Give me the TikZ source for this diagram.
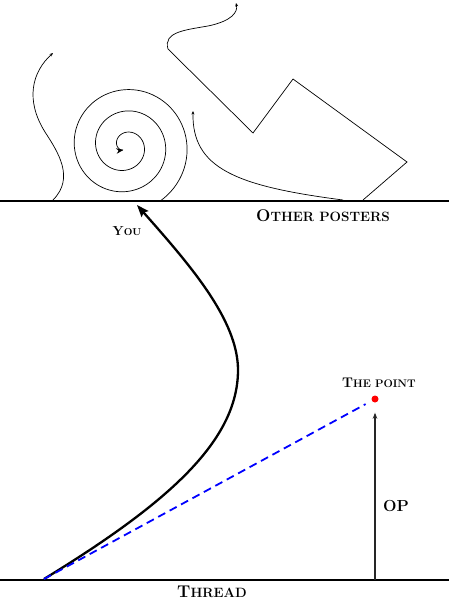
\documentclass[tikz,border=0pt]{standalone}
\usepackage{fontspec}
\usetikzlibrary{arrows.meta}
\newcommand\fakesc[4]{\textbf{{\fontsize{#1}{#1}\selectfont #3}{\fontsize{#2}{#2}\selectfont #4}}}
\begin{document}
\begin{tikzpicture}[x=1pt,y=-1pt,
  scribble/.style={line width=0.7pt,-{Stealth[length=3.5pt,width=3pt]}},
  ground/.style={line width=1.3pt},
  lbl/.style={anchor=base,inner sep=0pt},
  dot/.style={circle,fill=red,inner sep=0pt,minimum size=7pt}]
\useasboundingbox (0,0) rectangle (449,600);
% ground lines
\coordinate (tl) at (0,201); \coordinate (tr) at (449,201);
\coordinate (bl) at (0,580); \coordinate (br) at (449,580);
\draw[ground] (tl) -- (tr);
\draw[ground] (bl) -- (br);
% top scribbles
\draw[scribble] (53,200) .. controls (75,178) and (58,152) .. (45,132)
  .. controls (25,100) and (32,72) .. (53,53);
\draw[line width=0.7pt,-{Stealth[length=7pt,width=5.5pt]}]
  plot[domain=-57:963,samples=250,smooth]
  ({125.3+(61.7-10.7*\x/180)*cos(\x)},{146-(61.7-10.7*\x/180)*sin(\x)});
\draw[scribble] (343,200) .. controls (235,186) and (192,168) .. (193,111);
\draw[scribble] (363,200) -- (407,162) -- (293,79) -- (253,133) -- (168,49)
  .. controls (163,32) and (185,30) .. (208,26)
  .. controls (232,21) and (238,12) .. (236,3);
% lower part
\coordinate (start) at (44,579);
\coordinate (you) at (137,205);
\coordinate (opbase) at (375,580);
\node[dot] (point) at (375,399) {};
\draw[line width=2.3pt,-{Stealth[length=12pt,width=9pt,inset=2pt]}]
  (start) .. controls (170,502) and (238,440) .. (238,370)
  .. controls (238,320) and (190,265) .. (you);
\draw[blue,line width=1.8pt,dash pattern=on 8pt off 5pt,shorten >=7pt] (start) -- (point);
\draw[line width=1.3pt,black!85,shorten >=10pt,-{Stealth[length=6pt,width=4.5pt]}] (opbase) -- (point);
% labels
\node[lbl] (lother) at (323,221.5) {\fakesc{17}{13.5}{O}{THER POSTERS}};
\node[lbl] (lyou) at (127,235.5) {\fakesc{13}{10}{Y}{OU}};
\node[lbl] (lpoint) at (379,387.5) {\fakesc{14}{11}{T}{HE POINT}};
\node[lbl] (lop) at (396,511.5) {\fakesc{16}{16}{O}{P}};
\node[lbl] (lthread) at (212,597) {\fakesc{17}{13.5}{T}{HREAD}};
\end{tikzpicture}
\end{document}
